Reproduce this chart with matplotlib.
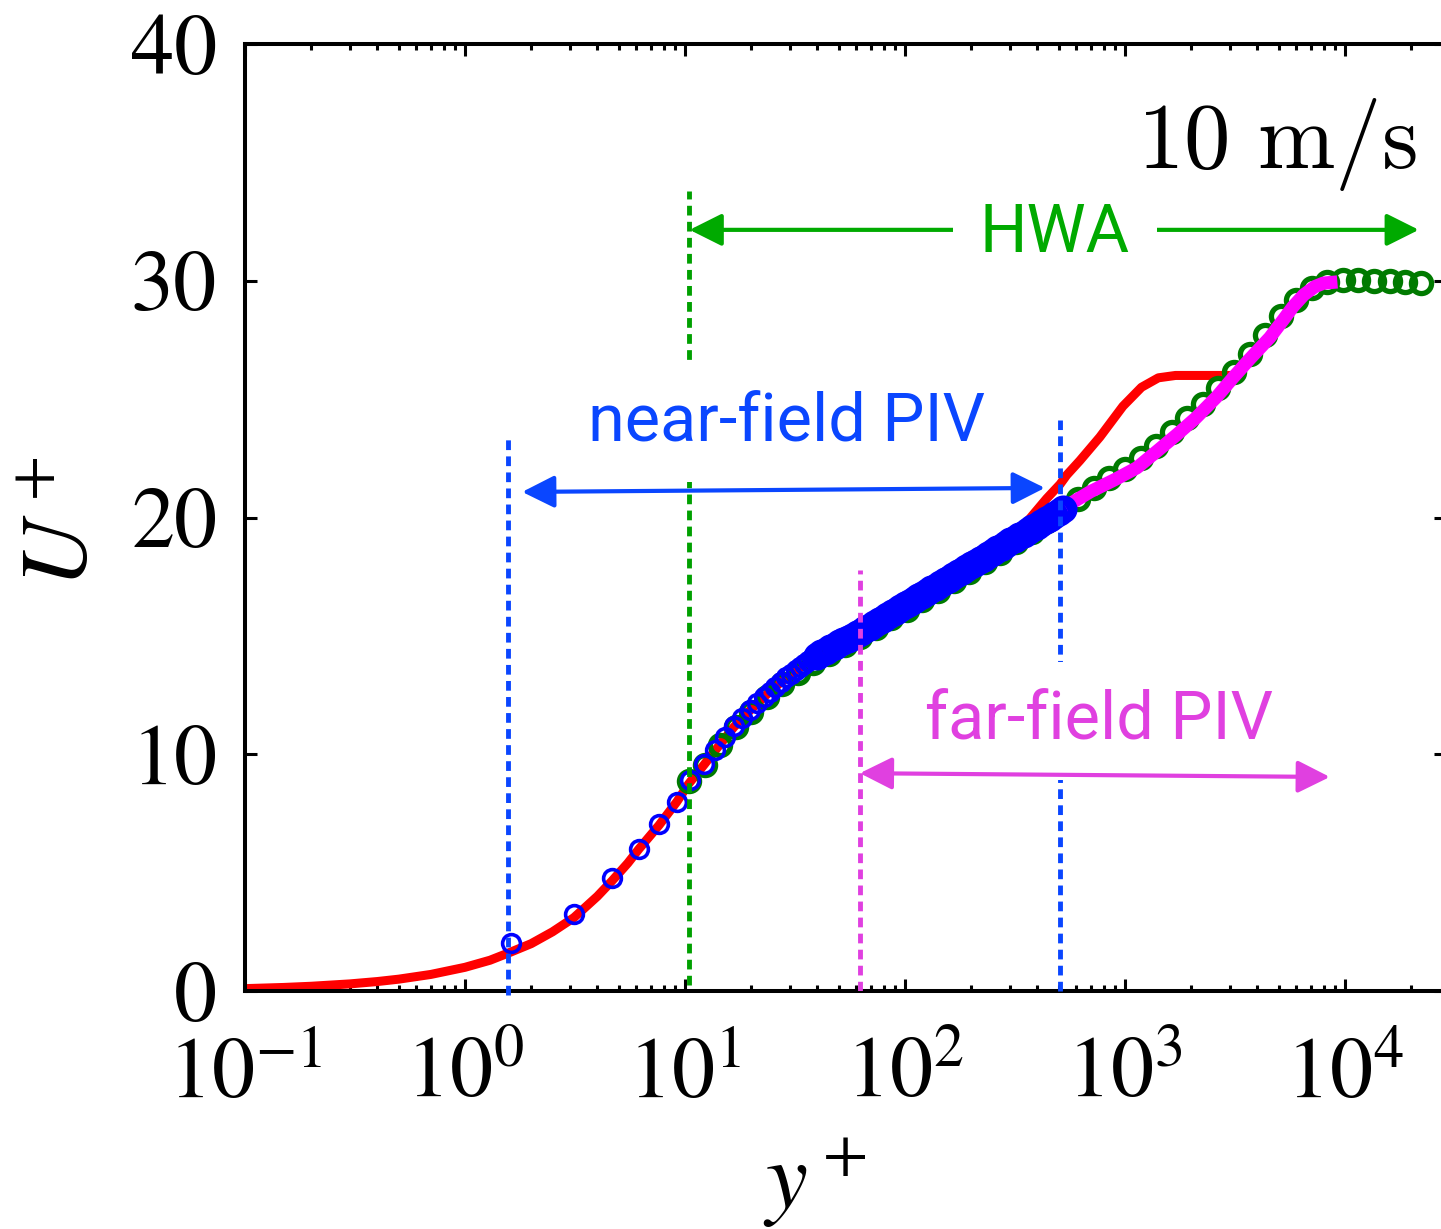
import matplotlib
matplotlib.use('Agg')
import matplotlib.pyplot as plt
from matplotlib.ticker import LogLocator, NullFormatter

# ---------------- data ----------------
red_yp = [0.1, 0.15, 0.2, 0.3, 0.4, 0.5, 0.7, 1.0, 1.3, 1.62, 2.0, 2.5, 3.13, 4.0, 4.66, 5.5,
          6.18, 7.62, 9.2, 10.4, 12.2, 13.7, 16.7, 20, 25, 30, 40, 50, 70, 100, 150, 200, 250,
          300, 358, 441, 507, 545, 624, 770, 980, 1190, 1420, 1700, 2200, 3400]
red_Up = [0.1, 0.15, 0.2, 0.3, 0.4, 0.5, 0.7, 1.0, 1.3, 1.65, 2.0, 2.5, 3.1, 4.0, 4.65, 5.4,
          6.0, 7.0, 8.0, 8.75, 9.55, 10.15, 11.15, 11.9, 12.75, 13.35, 14.15, 14.7, 15.4, 16.25, 17.25, 17.95, 18.55,
          19.1, 19.8, 20.8, 21.4, 21.8, 22.4, 23.4, 24.7, 25.5, 25.9, 26.0, 26.0, 26.0]

near_yp = [1.62, 3.13, 4.66, 6.18, 7.62, 9.2, 10.6, 12.2, 13.7, 15.2, 16.7, 18.2, 19.8, 21.3,
           22.8, 24.3, 25.8, 27.3, 28.8, 30.4, 31.9, 33.4, 34.9, 36.4, 37.9,
           39.8, 41.7, 43.7, 45.7, 47.9, 50.1, 52.5, 55.0, 57.5, 60.3, 63.1, 66.1, 69.2, 72.4,
           75.9, 79.4, 83.2, 87.1, 91.2, 95.5, 100.0, 104.7, 109.6, 114.8, 120.2, 125.9, 131.8,
           138.0, 144.5, 151.4, 158.5, 166.0, 173.8, 182.0, 190.5, 199.5, 208.9, 218.8, 229.1,
           239.9, 251.2, 263.0, 275.4, 288.4, 302.0, 316.2, 331.1, 346.7, 363.1, 380.2, 398.1,
           416.9, 436.5, 457.1, 478.6, 501.2, 524.8]
near_Up = [2.03, 3.25, 4.77, 6.0, 7.05, 8.0, 8.9, 9.6, 10.2, 10.74, 11.2, 11.55, 11.85, 12.15,
           12.4, 12.65, 12.85, 13.05, 13.25, 13.4, 13.55, 13.7, 13.82, 13.94, 14.05,
           14.15, 14.27, 14.38, 14.48, 14.58, 14.68, 14.78, 14.87, 14.96, 15.06, 15.17, 15.28, 15.39, 15.50,
           15.62, 15.73, 15.84, 15.95, 16.07, 16.18, 16.29, 16.40, 16.52, 16.63, 16.74, 16.85, 16.96,
           17.08, 17.19, 17.30, 17.41, 17.53, 17.64, 17.75, 17.86, 17.98, 18.09, 18.20, 18.31,
           18.43, 18.54, 18.65, 18.76, 18.88, 18.99, 19.10, 19.21, 19.32, 19.44, 19.55, 19.66,
           19.77, 19.89, 20.00, 20.11, 20.22, 20.34]

hwa_yp = [10.4, 12.3, 14.5, 17.0, 20.0, 23.6, 27.7, 32.7, 38.4, 45.2, 53.2, 62.7, 73.8, 86.7,
          102.1, 120.2, 141.6, 166.7, 195.9, 230.7, 271.6, 319.9, 376.7, 442.6, 521.2, 613.8,
          722.8, 851.1, 1000, 1178, 1387, 1633, 1923, 2259, 2661, 3133, 3690, 4345, 5105, 6012,
          7079, 8337, 9817, 11535, 13583, 15995, 18836, 22182]
hwa_Up = [8.85, 9.55, 10.4, 11.15, 11.8, 12.4, 12.95, 13.45, 13.85, 14.25, 14.6, 14.95, 15.35, 15.75,
          16.1, 16.5, 16.9, 17.3, 17.7, 18.1, 18.5, 18.95, 19.4, 19.85, 20.35, 20.8,
          21.25, 21.65, 22.05, 22.5, 23.0, 23.6, 24.2, 24.8, 25.45, 26.15, 26.9, 27.7, 28.5, 29.2,
          29.7, 29.95, 30.05, 30.05, 30.0, 30.0, 29.95, 29.9]

far_yp = [52, 60, 70, 85, 100, 130, 160, 200, 250, 300, 400, 523, 700, 900, 1134, 1400, 1723,
          2100, 2618, 3100, 3700, 4560, 5300, 5807, 6500, 7303, 8000, 9250]
far_Up = [14.4, 14.8, 15.2, 15.7, 16.1, 16.75, 17.25, 17.8, 18.35, 18.8, 19.5, 20.4, 21.1, 21.6,
          22.1, 22.8, 23.5, 24.2, 25.1, 25.9, 26.7, 27.6, 28.4, 28.9, 29.4, 29.75, 29.9, 29.95]

# measurement-range markers (y+ position, lower U+, upper U+)
near_bounds = [(1.57, -0.15, 23.5), (507, 0.0, 24.1)]
hwa_bound = (10.43, 0.25, 33.8)
far_bound = (62.4, 0.0, 17.8)

xticks = [1e-1, 1e0, 1e1, 1e2, 1e3, 1e4]
xticklabels = [r'$10^{-1}$', r'$10^{0}$', r'$10^{1}$', r'$10^{2}$', r'$10^{3}$', r'$10^{4}$']
yticks = [0, 10, 20, 30, 40]
yticklabels = ['0', '10', '20', '30', '40']

# ---------------- style ----------------
plt.rcParams['mathtext.fontset'] = 'stix'
plt.rcParams['font.family'] = ['STIXGeneral', 'DejaVu Sans']

C_NEAR = '#0a46ff'
C_FAR = '#e040e0'
C_HWA = '#00aa00'
C_HWA_DOT = '#00a000'
SANS = ['Roboto', 'Lato', 'DejaVu Sans']

fig = plt.figure(figsize=(14.41, 12.29), dpi=100)
W, H = 1441, 1229
ax = fig.add_axes([245 / W, 1 - 991 / H, (1446 - 245) / W, (991 - 44) / H])
ax.set_xscale('log')
ax.set_xlim(0.1, 10 ** 4.46)
ax.set_ylim(0, 40)

# data
ax.plot(red_yp, red_Up, color='#ff0000', lw=6.5, solid_capstyle='butt', zorder=2)
ax.plot(hwa_yp, hwa_Up, ls='none', marker='o', ms=14.5, mfc='none', mec='#007a00', mew=3.8, zorder=3)
ax.plot(far_yp, far_Up, color='#ff00ff', lw=9.5, solid_capstyle='butt', zorder=4)
n_sparse = 25
ax.plot(near_yp[:n_sparse], near_Up[:n_sparse], ls='none', marker='o', ms=12.8, mfc='none',
        mec='#0000ff', mew=2.6, zorder=5)
ax.plot(near_yp[n_sparse:], near_Up[n_sparse:], ls='none', marker='o', ms=16, mfc='none',
        mec='#0000ff', mew=4.2, zorder=5)

dash = (2.0, 1.3)
for x, y0, y1 in near_bounds:
    ax.plot([x, x], [y0, y1], color=C_NEAR, lw=3.5, dashes=dash, zorder=6, clip_on=False)
ax.plot([hwa_bound[0]] * 2, hwa_bound[1:], color=C_HWA_DOT, lw=3.5, dashes=dash, zorder=6)
ax.plot([far_bound[0]] * 2, far_bound[1:], color=C_FAR, lw=3.5, dashes=dash, zorder=6)

# annotations
def arrow(x0, y0, x1, y1, color, z):
    ax.annotate('', xy=(x1, y1), xytext=(x0, y0),
                arrowprops=dict(arrowstyle='<|-|>,head_length=0.9,head_width=0.45',
                                color=color, lw=3, shrinkA=0, shrinkB=0, mutation_scale=22),
                zorder=z)

box = dict(boxstyle='square,pad=0.4', fc='white', ec='none')
arrow(10.5, 32.15, 21700, 32.15, C_HWA, 6)
ax.text(481, 31.2, 'HWA', color=C_HWA, fontsize=48, family=SANS, fontweight='normal',
        ha='center', va='baseline', bbox=box, zorder=7)

ax.text(29.1, 23.23, 'near-field PIV', color=C_NEAR, fontsize=48, family=SANS, fontweight='normal',
        ha='center', va='baseline', bbox=box, zorder=7)
arrow(1.82, 21.08, 433, 21.25, C_NEAR, 8)

ax.text(762, 10.64, 'far-field PIV', color=C_FAR, fontsize=48, family=SANS, fontweight='normal',
        ha='center', va='baseline', bbox=box, zorder=7)
arrow(62.4, 9.2, 8550, 9.04, C_FAR, 8)

ax.text(21230, 34.76, r'$10\ \mathrm{m/s}$', fontsize=67, math_fontfamily='cm',
        ha='right', va='baseline', zorder=7)

# axes styling
for s in ax.spines.values():
    s.set_linewidth(2.9)
ax.set_xticks(xticks)
ax.set_xticklabels(xticklabels)
ax.xaxis.set_minor_locator(LogLocator(base=10, subs=[2, 3, 4, 5, 6, 7, 8, 9], numticks=20))
ax.xaxis.set_minor_formatter(NullFormatter())
ax.set_yticks(yticks)
ax.set_yticklabels(yticklabels)
ax.tick_params(which='both', direction='in', top=True, right=True, width=2.2)
ax.tick_params(which='major', length=8.5)
ax.tick_params(which='minor', length=4)
ax.tick_params(axis='x', which='major', labelsize=62, pad=34)
ax.tick_params(axis='y', which='major', labelsize=62, pad=20)

ax.set_xlabel(r'$y^+$', fontsize=68)
ax.xaxis.set_label_coords((815 - 245) / 1201, -(1135 - 991) / 947)
ax.set_ylabel(r'$U^+$', fontsize=68)
ax.yaxis.set_label_coords((106 - 245) / 1201, (991 - 522) / 947)

fig.savefig('out.png', dpi=100)
